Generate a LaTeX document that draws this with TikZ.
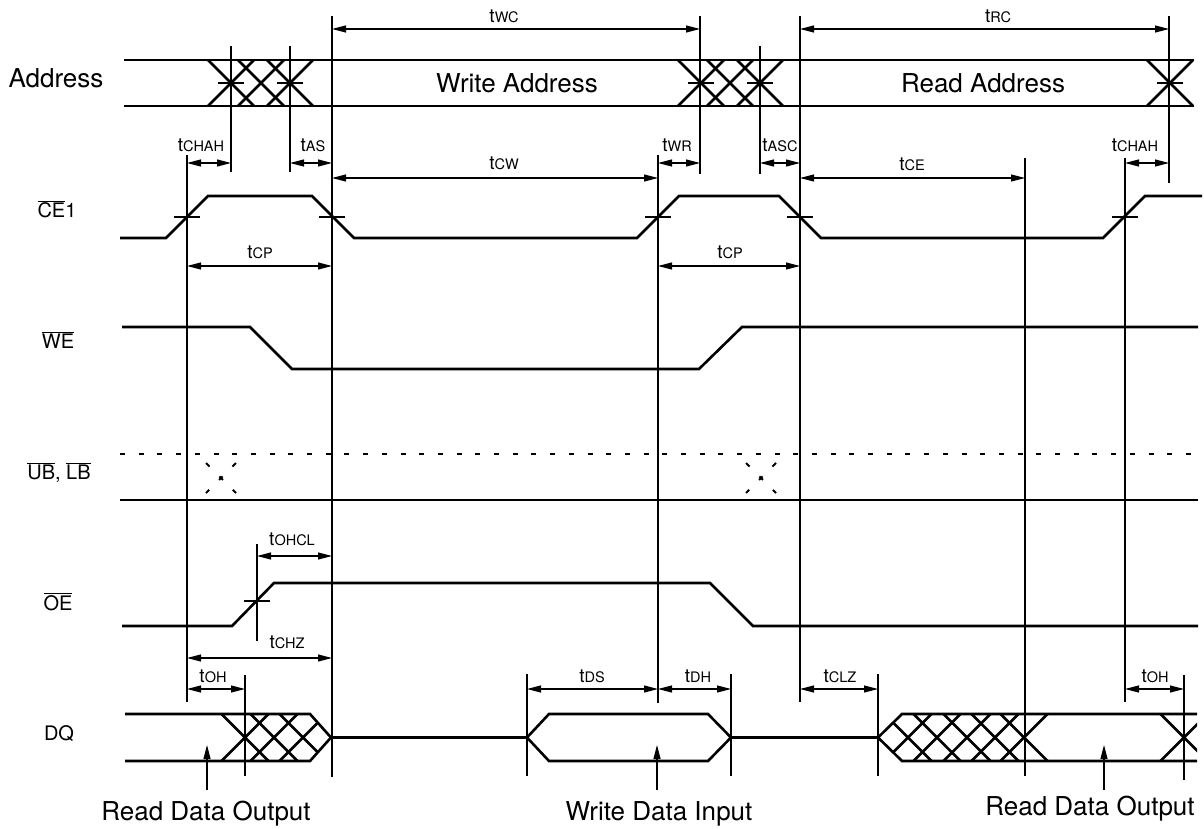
\documentclass[tikz,border=0pt]{standalone}
\usepackage{fontspec}
\setmainfont{TeX Gyre Heros}
\usetikzlibrary{arrows.meta}

\newcommand{\tlab}[1]{{\fontsize{19}{20}\selectfont t\fontsize{14.5}{16}\selectfont #1}}
\newcommand{\ovl}[1]{\ensuremath{\overline{\mbox{#1}}}}

\tikzset{
  sig/.style={line width=2.6pt},
  guide/.style={line width=1.1pt},
  tick/.style={line width=1.1pt},
  dim/.style={line width=1.1pt,{Triangle[length=14pt,width=7pt]}-{Triangle[length=14pt,width=7pt]}},
  up/.style={line width=1.1pt,-{Triangle[length=14pt,width=7pt]}},
  lbl/.style={font=\fontsize{20}{22}\selectfont,anchor=base},
  big/.style={font=\fontsize{26}{28}\selectfont,anchor=base},
  tl/.style={anchor=base,inner sep=0pt}
}

\begin{document}
\begin{tikzpicture}[x=1pt,y=-1pt]
    \useasboundingbox (0,0) rectangle (1204,829);

    % signal names
    \node[big] (addr) at (56,88) {Address};
    \node[lbl] (ce) at (57,218) {\ovl{CE}1};
    \node[lbl] (we) at (58,348) {\ovl{WE}};
    \node[lbl] (ublb) at (59,479) {\ovl{UB}, \ovl{LB}};
    \node[lbl] (oe) at (58,610) {\ovl{OE}};
    \node[lbl] (dq) at (59,740) {DQ};

    % guide lines
    \draw[guide] (187,155)--(187,702);
    \draw[guide] (231,46)--(231,172);
    \draw[guide] (290,46)--(290,172);
    \draw[guide] (332,16)--(332,777);
    \draw[guide] (257,544)--(257,641);
    \draw[guide] (245,675)--(245,776);
    \draw[guide] (527,674)--(527,776);
    \draw[guide] (658,155)--(658,703);
    \draw[guide] (700,16)--(700,174);
    \draw[guide] (731,674)--(731,776);
    \draw[guide] (760,46)--(760,174);
    \draw[guide] (800,16)--(800,702);
    \draw[guide] (878,674)--(878,776);
    \draw[guide] (1025,158)--(1025,776);
    \draw[guide] (1125,158)--(1125,702);
    \draw[guide] (1169,16)--(1169,183);
    \draw[guide] (1184,675)--(1184,780);

    % address bus
    \draw[sig] (124,60)--(1194,60);
    \draw[sig] (124,106)--(1194,106);
    \foreach \c in {231,261,290,701,730,760,1170}
        \draw[sig] (\c-23,60)--(\c+23,106) (\c-23,106)--(\c+23,60);
    \foreach \c in {231,290,701,760,1170}
        \draw[tick] (\c-13,83)--(\c+13,83);
    \node[big] (wraddr) at (517,93) {Write Address};
    \node[big] (rdaddr) at (983,93) {Read Address};

    % CE1
    \draw[sig] (120,238)--(166,238)--(208,196)--(312,196)--(354,238)--(637,238)--(679,196)
        --(779,196)--(821,238)--(1103,238)--(1145,196)--(1202,196);
    \foreach \c in {187,332,658,800,1125}
        \draw[tick] (\c-13,217)--(\c+13,217);

    % WE
    \draw[sig] (122,327)--(250,327)--(292,369)--(699,369)--(742,327)--(1198,327);

    % UB, LB
    \draw[line width=2pt,dash pattern=on 5pt off 13.7pt] (120,454)--(1198,454);
    \draw[sig] (120,500)--(1198,500);
    \foreach \c in {221,761}
        \draw[line width=2pt,dash pattern=on 5pt off 14pt] (\c-15,463)--(\c+15,493) (\c+15,463)--(\c-15,493);

    % OE
    \draw[sig] (122,626)--(232,626)--(274,583)--(710,583)--(753,626)--(1198,626);
    \draw[tick] (244,601)--(270,601);

    % DQ
    \begin{scope}
        \clip (125,714)--(310,714)--(331,737.5)--(310,761)--(125,761)--cycle;
        \foreach \c in {245,274,303}
            \draw[sig] (\c-23.5,714)--(\c+23.5,761) (\c-23.5,761)--(\c+23.5,714);
    \end{scope}
    \draw[sig] (125,714)--(310,714)--(331,737.5)--(310,761)--(125,761);
    \draw[sig] (331,737.5)--(527,737.5);
    \draw[sig] (527,737.5)--(549,714)--(708,714)--(731,737.5)--(708,761)--(549,761)--cycle;
    \draw[sig] (731,737.5)--(878,737.5);
    \begin{scope}
        \clip (878,737.5)--(902,714)--(1197,714)--(1197,761)--(902,761)--cycle;
        \foreach \c in {908,937,967,995,1024,1184}
            \draw[sig] (\c-23.5,714)--(\c+23.5,761) (\c-23.5,761)--(\c+23.5,714);
    \end{scope}
    \draw[sig] (1197,714)--(902,714)--(878,737.5)--(902,761)--(1197,761);

    % timing arrows
    \draw[dim] (332,29)--(700,29);
    \node[tl] (twc) at (504,23) {\tlab{WC}};
    \draw[dim] (800,29)--(1169,29);
    \node[tl] (trc) at (998,23) {\tlab{RC}};
    \draw[dim] (187,163)--(231,163);
    \node[tl] (tchah) at (201,152) {\tlab{CHAH}};
    \draw[dim] (290,163)--(332,163);
    \node[tl] (tas) at (313,152) {\tlab{AS}};
    \draw[dim] (658,163)--(700,163);
    \node[tl] (twr) at (677,152) {\tlab{WR}};
    \draw[dim] (760,163)--(800,163);
    \node[tl] (tasc) at (780,152) {\tlab{ASC}};
    \draw[dim] (1125,163)--(1169,163);
    \node[tl] (tchahb) at (1135,152) {\tlab{CHAH}};
    \draw[dim] (332,178)--(658,178);
    \node[tl] (tcw) at (504,170) {\tlab{CW}};
    \draw[dim] (800,178)--(1025,178);
    \node[tl] (tce) at (912,171) {\tlab{CE}};
    \draw[dim] (187,266)--(332,266);
    \node[tl] (tcp) at (260,258) {\tlab{CP}};
    \draw[dim] (658,266)--(800,266);
    \node[tl] (tcpb) at (730,258) {\tlab{CP}};
    \draw[dim] (257,556)--(332,556);
    \node[tl] (tohcl) at (292,545) {\tlab{OHCL}};
    \draw[dim] (187,658)--(332,658);
    \node[tl] (tchz) at (287,648) {\tlab{CHZ}};
    \draw[dim] (187,689)--(245,689);
    \node[tl] (toh) at (213,682) {\tlab{OH}};
    \draw[dim] (527,689)--(658,689);
    \node[tl] (tds) at (592,682) {\tlab{DS}};
    \draw[dim] (658,689)--(731,689);
    \node[tl] (tdh) at (698,682) {\tlab{DH}};
    \draw[dim] (800,689)--(878,689);
    \node[tl] (tclz) at (840,682) {\tlab{CLZ}};
    \draw[dim] (1125,689)--(1184,689);
    \node[tl] (tohb) at (1155,682) {\tlab{OH}};

    % data notes
    \node[big] (rdout) at (206,820) {Read Data Output};
    \node[big] (wrin) at (659,820) {Write Data Input};
    \node[big] (rdoutb) at (1090,815) {Read Data Output};
    \draw[up] (207,790)--(207,745);
    \draw[up] (657,790)--(657,745);
    \draw[up] (1104,790)--(1104,745);
\end{tikzpicture}
\end{document}
